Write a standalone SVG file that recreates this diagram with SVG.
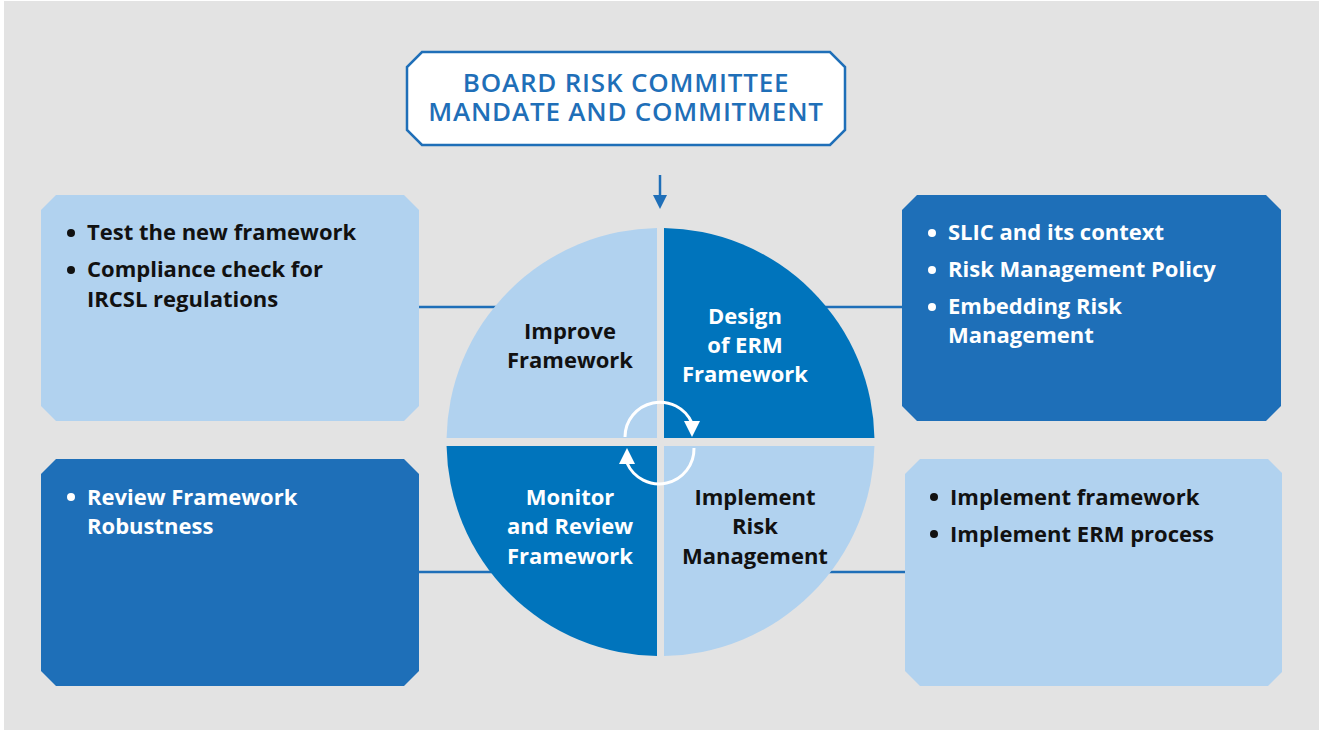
<svg xmlns="http://www.w3.org/2000/svg" width="1319" height="730" viewBox="0 0 1319 730">
<defs>
<style>
.t{font-family:"Open Sans",Lato,"Liberation Sans",sans-serif;font-weight:700;font-size:22px}
.dk{fill:#ffffff}
.lt{fill:#111111}
.ttl{font-family:"Open Sans",Lato,"Liberation Sans",sans-serif;font-weight:600;font-size:26px;letter-spacing:0.8px;fill:#1f6fb8}
.conn{stroke:#1f6fb8;stroke-width:2.5;fill:none}
.boxL{fill:#b1d2ef}
.boxD{fill:#1e6fb8}
.qL{fill:#b1d2ef}
.qD{fill:#0074bc}
.cyc{stroke:#ffffff;stroke-width:3;fill:none}
</style>
<clipPath id="cTL"><rect x="0" y="0" width="657" height="438"/></clipPath>
<clipPath id="cTR"><rect x="664" y="0" width="655" height="438"/></clipPath>
<clipPath id="cBL"><rect x="0" y="446" width="657" height="284"/></clipPath>
<clipPath id="cBR"><rect x="664" y="446" width="655" height="284"/></clipPath>
</defs>
<rect x="0" y="0" width="1319" height="730" fill="#ffffff"/>
<rect x="4" y="1" width="1315" height="729" fill="#e3e3e3"/>

<g id="connectors">
<line class="conn" x1="419" y1="307" x2="500" y2="307"/>
<line class="conn" x1="820" y1="307" x2="902" y2="307"/>
<line class="conn" x1="419" y1="572" x2="497" y2="572"/>
<line class="conn" x1="824" y1="572" x2="905" y2="572"/>
<line class="conn" x1="660" y1="175" x2="660" y2="197"/>
<polygon points="653,195 667,195 660,209" fill="#1f6fb8"/>
</g>

<g id="board">
<polygon points="422,52 830,52 845,67 845,130 830,145 422,145 407,130 407,67" fill="#ffffff" stroke="#1f6fb8" stroke-width="2.5"/>
<text class="ttl" x="626" y="92" text-anchor="middle">BOARD RISK COMMITTEE</text>
<text class="ttl" x="626" y="121" text-anchor="middle">MANDATE AND COMMITMENT</text>
</g>

<g id="box-test">
<polygon class="boxL" points="56,195 404,195 419,210 419,406 404,421 56,421 41,406 41,210"/>
<circle cx="71" cy="233" r="4" fill="#111"/>
<text class="t lt" x="87" y="240">Test the new framework</text>
<circle cx="71" cy="270" r="4" fill="#111"/>
<text class="t lt" x="87" y="277">Compliance check for</text>
<text class="t lt" x="87" y="307">IRCSL regulations</text>
</g>

<g id="box-slic">
<polygon class="boxD" points="917,195 1266,195 1281,210 1281,406 1266,421 917,421 902,406 902,210"/>
<circle cx="932" cy="233" r="4" fill="#fff"/>
<text class="t dk" x="948" y="240">SLIC and its context</text>
<circle cx="932" cy="270" r="4" fill="#fff"/>
<text class="t dk" x="948" y="277">Risk Management Policy</text>
<circle cx="932" cy="307" r="4" fill="#fff"/>
<text class="t dk" x="948" y="314">Embedding Risk</text>
<text class="t dk" x="948" y="343">Management</text>
</g>

<g id="box-review">
<polygon class="boxD" points="56,459 404,459 419,474 419,671 404,686 56,686 41,671 41,474"/>
<circle cx="71" cy="497" r="4" fill="#fff"/>
<text class="t dk" x="87" y="505">Review Framework</text>
<text class="t dk" x="87" y="534">Robustness</text>
</g>

<g id="box-implement">
<polygon class="boxL" points="920,459 1268,459 1282,473 1282,672 1268,686 920,686 905,671 905,474"/>
<circle cx="934" cy="497" r="4" fill="#111"/>
<text class="t lt" x="950" y="505">Implement framework</text>
<circle cx="934" cy="534" r="4" fill="#111"/>
<text class="t lt" x="950" y="542">Implement ERM process</text>
</g>

<g id="q-improve">
<circle class="qL" cx="660.5" cy="442" r="214" clip-path="url(#cTL)"/>
<text class="t lt" x="570" y="339" text-anchor="middle">Improve</text>
<text class="t lt" x="570" y="368" text-anchor="middle">Framework</text>
</g>
<g id="q-design">
<circle class="qD" cx="660.5" cy="442" r="214" clip-path="url(#cTR)"/>
<text class="t dk" x="745" y="324" text-anchor="middle">Design</text>
<text class="t dk" x="745" y="353" text-anchor="middle">of ERM</text>
<text class="t dk" x="745" y="382" text-anchor="middle">Framework</text>
</g>
<g id="q-monitor">
<circle class="qD" cx="660.5" cy="442" r="214" clip-path="url(#cBL)"/>
<text class="t dk" x="570" y="505" text-anchor="middle">Monitor</text>
<text class="t dk" x="570" y="534" text-anchor="middle">and Review</text>
<text class="t dk" x="570" y="564" text-anchor="middle">Framework</text>
</g>
<g id="q-implement">
<circle class="qL" cx="660.5" cy="442" r="214" clip-path="url(#cBR)"/>
<text class="t lt" x="755" y="505" text-anchor="middle">Implement</text>
<text class="t lt" x="755" y="534" text-anchor="middle">Risk</text>
<text class="t lt" x="755" y="564" text-anchor="middle">Management</text>
</g>

<g id="cycle">
<path class="cyc" d="M625,437 A35,35 0 0 1 692,423"/>
<polygon points="684,421 700,421 692,437" fill="#fff"/>
<path class="cyc" d="M694,448 A35,35 0 0 1 627,463"/>
<polygon points="619,464 635,464 627,448" fill="#fff"/>
</g>
</svg>
